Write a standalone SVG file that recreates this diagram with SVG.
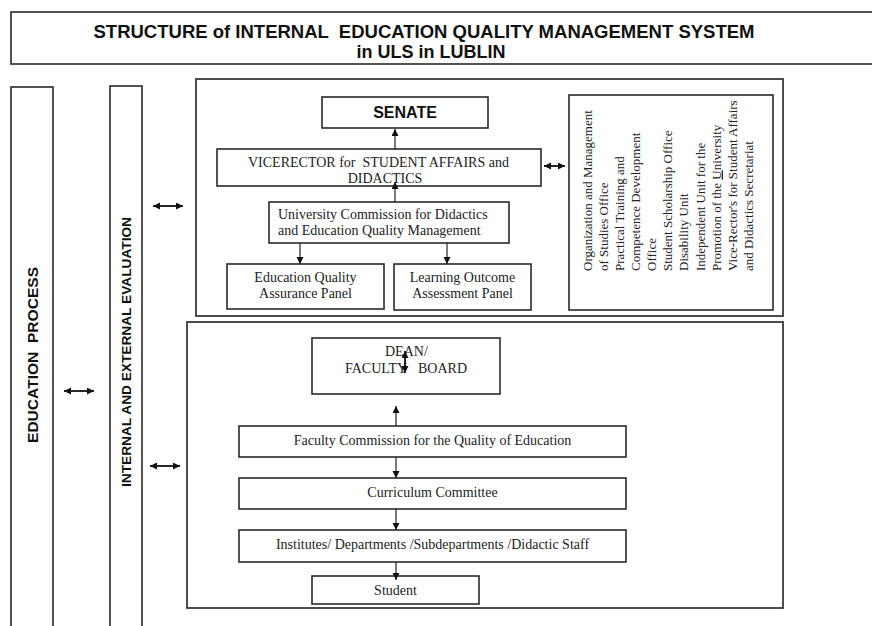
<svg xmlns="http://www.w3.org/2000/svg" width="872" height="626" viewBox="0 0 872 626">
<style>
.bg{fill:#ffffff}
.box{fill:#ffffff;stroke:#2a2a2a;stroke-width:1.6}
.panel{fill:none;stroke:#3a3a3a;stroke-width:1.8}
.sans{font-family:"Liberation Sans",Arial,sans-serif;font-weight:bold;fill:#111}
.serif{font-family:"Liberation Serif","Times New Roman",serif;font-size:14px;fill:#222}
.side{font-family:"Liberation Serif","Times New Roman",serif;font-size:13px;fill:#222}
.con{fill:none;stroke:#222;stroke-width:1.2}
.dbl{fill:none;stroke:#111;stroke-width:1.8}
</style>
<defs>
<marker id="ah" markerUnits="userSpaceOnUse" markerWidth="8" markerHeight="8" refX="7" refY="3.5" orient="auto-start-reverse">
<path d="M0,0 L7,3.5 L0,7 z" fill="#111"/>
</marker>
</defs>
<rect class="bg" x="0" y="0" width="872" height="626"/>

<g id="title">
<rect class="box" x="11" y="12" width="870" height="52"/>
<text class="sans" x="424" y="37.5" font-size="18" text-anchor="middle" textLength="661" lengthAdjust="spacingAndGlyphs" xml:space="preserve">STRUCTURE of INTERNAL  EDUCATION QUALITY MANAGEMENT SYSTEM</text>
<text class="sans" x="431" y="57.5" font-size="18" text-anchor="middle">in ULS in LUBLIN</text>
</g>

<g id="education-process">
<rect class="box" x="11" y="87" width="42" height="560"/>
<text class="sans" transform="translate(38,355) rotate(-90)" font-size="15.5" text-anchor="middle" textLength="176" lengthAdjust="spacingAndGlyphs" xml:space="preserve">EDUCATION  PROCESS</text>
</g>

<g id="evaluation">
<rect class="box" x="110" y="86" width="32" height="560"/>
<text class="sans" transform="translate(131,352) rotate(-90)" font-size="13.5" text-anchor="middle" textLength="270" lengthAdjust="spacingAndGlyphs">INTERNAL AND EXTERNAL EVALUATION</text>
</g>

<g id="university-panel">
<rect class="panel" x="196" y="79" width="587" height="237"/>
</g>

<g id="faculty-panel">
<rect class="panel" x="187" y="322" width="596" height="286"/>
</g>

<g id="senate">
<rect class="box" x="322" y="97" width="166" height="31"/>
<text class="sans" x="405" y="118" font-size="16" text-anchor="middle">SENATE</text>
</g>

<g id="vicerector">
<rect class="box" x="217" y="149" width="324" height="37"/>
<text class="serif" xml:space="preserve"><tspan x="248" y="167">VICERECTOR for  STUDENT AFFAIRS and</tspan><tspan x="385" y="183" text-anchor="middle">DIDACTICS</tspan></text>
</g>

<g id="university-commission">
<rect class="box" x="269" y="202" width="240" height="41"/>
<text class="serif"><tspan x="278" y="218.5">University Commission for Didactics</tspan><tspan x="278" y="234.5">and Education Quality Management</tspan></text>
</g>

<g id="eqa-panel">
<rect class="box" x="227" y="264" width="157" height="45"/>
<text class="serif" text-anchor="middle"><tspan x="305.5" y="281.5">Education Quality</tspan><tspan x="305.5" y="297.5">Assurance Panel</tspan></text>
</g>

<g id="loa-panel">
<rect class="box" x="394" y="264" width="137" height="46"/>
<text class="serif" text-anchor="middle"><tspan x="462.5" y="281.5">Learning Outcome</tspan><tspan x="462.5" y="297.5">Assessment Panel</tspan></text>
</g>

<g id="offices">
<rect class="box" x="569" y="95" width="204" height="215"/>
<text class="side" transform="translate(591.5,271) rotate(-90)">
<tspan x="0" y="0">Organization and Management</tspan>
<tspan x="0" dy="16.15">of Studies Office</tspan>
<tspan x="0" dy="16.15">Practical Training and</tspan>
<tspan x="0" dy="16.15">Competence Development</tspan>
<tspan x="0" dy="16.15">Office</tspan>
<tspan x="0" dy="16.15">Student Scholarship Office</tspan>
<tspan x="0" dy="16.15">Disability Unit</tspan>
<tspan x="0" dy="16.15">Independent Unit for the</tspan>
<tspan x="0" dy="16.15">Promotion of the <tspan text-decoration="underline">U</tspan>niversity</tspan>
<tspan x="0" dy="16.15">Vice-Rector's for Student Affairs</tspan>
<tspan x="0" dy="16.15">and Didactics Secretariat</tspan>
</text>
</g>

<g id="dean">
<rect class="box" x="312" y="338" width="188" height="56"/>
<text class="serif" xml:space="preserve"><tspan x="385" y="356">DEAN/</tspan><tspan x="345" y="373">FACULTY</tspan><tspan x="467" y="373" text-anchor="end">BOARD</tspan></text>
</g>

<g id="faculty-commission">
<rect class="box" x="239" y="426" width="387" height="31"/>
<text class="serif" x="432.5" y="445" text-anchor="middle">Faculty Commission for the Quality of Education</text>
</g>

<g id="curriculum">
<rect class="box" x="239" y="478" width="387" height="31"/>
<text class="serif" x="432.5" y="497" text-anchor="middle">Curriculum Committee</text>
</g>

<g id="institutes">
<rect class="box" x="239" y="530" width="387" height="32"/>
<text class="serif" x="432.5" y="549" text-anchor="middle">Institutes/ Departments /Subdepartments /Didactic Staff</text>
</g>

<g id="student">
<rect class="box" x="312" y="576" width="167" height="28"/>
<text class="serif" x="395.5" y="595" text-anchor="middle">Student</text>
</g>

<g id="connectors">
<line class="con" x1="395" y1="149" x2="395" y2="129" marker-end="url(#ah)"/>
<line class="con" x1="395" y1="202" x2="395" y2="182" marker-end="url(#ah)"/>
<line class="con" x1="300" y1="243" x2="300" y2="264" marker-end="url(#ah)"/>
<line class="con" x1="447" y1="243" x2="447" y2="264" marker-end="url(#ah)"/>
<line class="dbl" x1="544" y1="166" x2="565" y2="166" marker-start="url(#ah)" marker-end="url(#ah)"/>
<line class="dbl" x1="405" y1="351" x2="405" y2="373" marker-start="url(#ah)" marker-end="url(#ah)"/>
<line class="con" x1="396" y1="426" x2="396" y2="406" marker-end="url(#ah)"/>
<line class="con" x1="396" y1="457" x2="396" y2="478" marker-end="url(#ah)"/>
<line class="con" x1="396" y1="509" x2="396" y2="530" marker-end="url(#ah)"/>
<line class="con" x1="396" y1="562" x2="396" y2="580" marker-end="url(#ah)"/>
<line class="dbl" x1="153" y1="206" x2="183" y2="206" marker-start="url(#ah)" marker-end="url(#ah)"/>
<line class="dbl" x1="64" y1="391" x2="94" y2="391" marker-start="url(#ah)" marker-end="url(#ah)"/>
<line class="dbl" x1="150" y1="466" x2="180" y2="466" marker-start="url(#ah)" marker-end="url(#ah)"/>
</g>
</svg>
